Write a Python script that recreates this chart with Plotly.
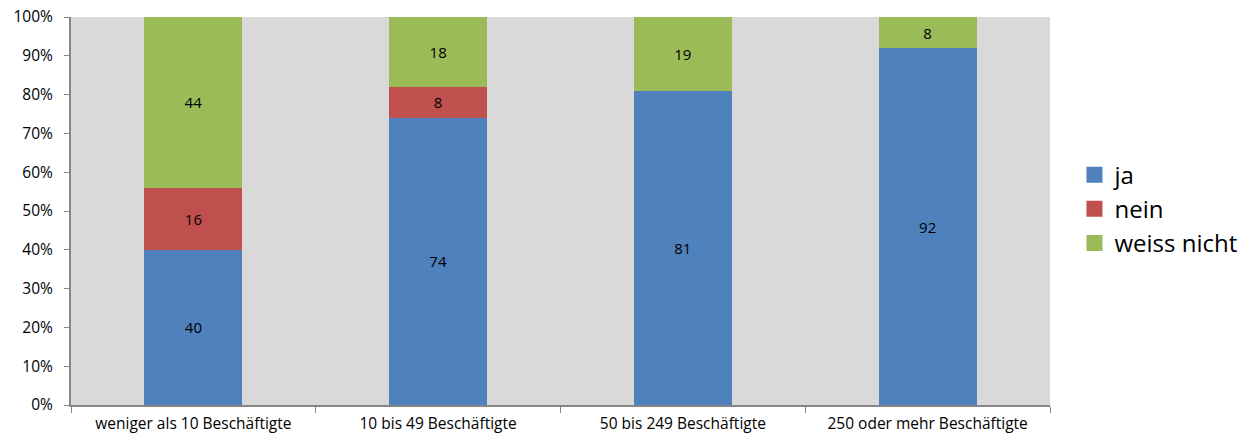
import plotly.graph_objects as go

categories = ["weniger als 10 Beschäftigte", "10 bis 49 Beschäftigte",
              "50 bis 249 Beschäftigte", "250 oder mehr Beschäftigte"]
ja = [40, 74, 81, 92]
nein = [16, 8, 0, 0]
weiss_nicht = [44, 18, 19, 8]

series = [
    ("ja", ja, "#4f81bd"),
    ("nein", nein, "#c0504d"),
    ("weiss nicht", weiss_nicht, "#9bbb59"),
]

FONT = "'Open Sans', sans-serif"

fig = go.Figure()
for name, vals, color in series:
    fig.add_trace(go.Bar(
        name=name,
        x=categories,
        y=vals,
        marker=dict(color=color, line=dict(width=0)),
        text=[str(v) if v else "" for v in vals],
        textposition="inside",
        insidetextanchor="middle",
        textfont=dict(color="#000000", size=15, family=FONT),
        hoverinfo="skip",
        showlegend=False,
        legendgroup=name,
    ))
    # larger square legend keys
    fig.add_trace(go.Scatter(
        name=name,
        x=[None], y=[None],
        mode="markers",
        marker=dict(symbol="square", size=16, color=color),
        legendgroup=name,
        hoverinfo="skip",
    ))

axis_color = "#868686"
fig.update_layout(
    barmode="stack",
    bargap=0.6,
    width=1238,
    height=435,
    margin=dict(l=71, r=188, t=17, b=30, autoexpand=False),
    paper_bgcolor="white",
    plot_bgcolor="#d9d9d9",
    font=dict(family=FONT, color="#000000", size=15),
    uniformtext=dict(mode="show", minsize=13),
    legend=dict(
        x=1.025, y=0.505, xanchor="left", yanchor="middle",
        traceorder="normal",
        tracegroupgap=7,
        font=dict(size=24, family=FONT),
        itemwidth=30,
        bgcolor="rgba(0,0,0,0)",
    ),
    xaxis=dict(
        type="category",
        range=[-0.5, 3.5],
        automargin=False,
        showgrid=False,
        showline=True, linecolor=axis_color, linewidth=2,
        ticks="outside", tickson="boundaries", ticklen=6, tickcolor=axis_color,
        ticklabelstandoff=3,
        tickfont=dict(size=15.5),
    ),
    yaxis=dict(
        range=[0, 100],
        automargin=False,
        tickvals=list(range(0, 101, 10)),
        ticktext=[f"{v}%" for v in range(0, 101, 10)],
        showgrid=False, zeroline=False,
        showline=True, linecolor=axis_color, linewidth=2,
        ticks="outside", ticklen=5, tickcolor=axis_color,
        ticklabelstandoff=8,
        tickfont=dict(size=15.5),
    ),
)

fig.write_html("out.html")
